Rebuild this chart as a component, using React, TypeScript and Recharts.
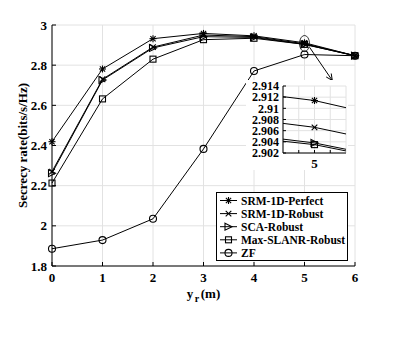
import { LineChart, Line, XAxis, YAxis, CartesianGrid, ReferenceDot, ReferenceLine, Legend } from "recharts";

const positions = [0, 1, 2, 3, 4, 5, 6];
const srmPerfect = [2.419, 2.781, 2.932, 2.958, 2.946, 2.9114, 2.847];
const srmRobust = [2.27, 2.73, 2.89, 2.95, 2.942, 2.9066, 2.847];
const scaRobust = [2.262, 2.726, 2.886, 2.942, 2.938, 2.9038, 2.847];
const slanrRobust = [2.213, 2.632, 2.83, 2.927, 2.934, 2.9035, 2.847];
const zfRate = [1.886, 1.929, 2.035, 2.383, 2.771, 2.853, 2.847];

const mainTicks = [1.8, 2, 2.2, 2.4, 2.6, 2.8, 3];
const insetYTicks = [2.902, 2.904, 2.906, 2.908, 2.91, 2.912, 2.914];
const insetXTicks = [4.99, 5, 5.01];

const rows = positions.map((x, i) => ({
  x,
  perfect: srmPerfect[i],
  robust: srmRobust[i],
  sca: scaRobust[i],
  slanr: slanrRobust[i],
  zf: zfRate[i],
}));

const series = [
  { key: "perfect", name: "SRM-1D-Perfect", marker: "star" },
  { key: "robust", name: "SRM-1D-Robust", marker: "cross" },
  { key: "sca", name: "SCA-Robust", marker: "tri" },
  { key: "slanr", name: "Max-SLANR-Robust", marker: "square" },
  { key: "zf", name: "ZF", marker: "circle" },
];

const font = "'Liberation Serif', 'Times New Roman', serif";
const tickStyle = { fill: "#000", fontSize: 13, fontWeight: "bold", fontFamily: font };
const insetTickStyle = { fill: "#000", fontSize: 12, fontWeight: "bold", fontFamily: font };

function Marker({ kind, cx, cy }: { kind: string; cx?: number; cy?: number }) {
  if (cx == null || cy == null || isNaN(cx) || isNaN(cy)) return null;
  const r = 3.5;
  const s = { stroke: "#000", strokeWidth: 1.1, fill: "none" };
  if (kind === "star") {
    const d = r * 0.75;
    return (
      <g {...s}>
        <line x1={cx - r} y1={cy} x2={cx + r} y2={cy} />
        <line x1={cx} y1={cy - r} x2={cx} y2={cy + r} />
        <line x1={cx - d} y1={cy - d} x2={cx + d} y2={cy + d} />
        <line x1={cx - d} y1={cy + d} x2={cx + d} y2={cy - d} />
      </g>
    );
  }
  if (kind === "cross") {
    const d = r * 0.8;
    return (
      <g {...s}>
        <line x1={cx - d} y1={cy - d} x2={cx + d} y2={cy + d} />
        <line x1={cx - d} y1={cy + d} x2={cx + d} y2={cy - d} />
      </g>
    );
  }
  if (kind === "tri") {
    return <polygon {...s} points={`${cx - r},${cy - r} ${cx + r},${cy} ${cx - r},${cy + r}`} />;
  }
  if (kind === "square") {
    return <rect {...s} x={cx - 3} y={cy - 3} width={6} height={6} />;
  }
  return <circle {...s} cx={cx} cy={cy} r={r} />;
}

function Arrow(p: any) {
  const { x1, y1, x2, y2 } = p;
  const a = Math.atan2(y2 - y1, x2 - x1);
  const h = 7;
  const l = [x2 - h * Math.cos(a - 0.45), y2 - h * Math.sin(a - 0.45)];
  const r = [x2 - h * Math.cos(a + 0.45), y2 - h * Math.sin(a + 0.45)];
  return (
    <g stroke="#000" strokeWidth={1} fill="none">
      <line x1={x1} y1={y1} x2={x2} y2={y2} />
      <polyline points={`${l[0]},${l[1]} ${x2},${y2} ${r[0]},${r[1]}`} />
    </g>
  );
}

function LegendBox() {
  return (
    <svg width={132} height={69} style={{ display: "block" }}>
      <rect x={0.5} y={0.5} width={131} height={68} fill="#fff" stroke="#000" strokeWidth={1} />
      {series.map((s, i) => {
        const y = 8.5 + i * 13.1;
        return (
          <g key={s.key}>
            <line x1={4} y1={y} x2={21} y2={y} stroke="#000" strokeWidth={1} />
            <Marker kind={s.marker} cx={12.5} cy={y} />
            <text x={25} y={y + 4} fontFamily={font} fontWeight="bold" fontSize={11.5} fill="#000">
              {s.name}
            </text>
          </g>
        );
      })}
    </svg>
  );
}

function MainYLabel(props: any) {
  const vb = props.viewBox || {};
  const cy = vb.y + vb.height / 2;
  return (
    <text
      x={27}
      y={cy}
      transform={`rotate(-90, 27, ${cy})`}
      textAnchor="middle"
      fontFamily={font}
      fontWeight="bold"
      fontSize={13}
      fill="#000"
    >
      Secrecy rate(bits/s/Hz)
    </text>
  );
}

function MainXLabel(props: any) {
  const vb = props.viewBox || {};
  const cx = vb.x + vb.width / 2;
  return (
    <text x={cx} y={298} textAnchor="middle" fontFamily={font} fontWeight="bold" fontSize={13} fill="#000">
      y
      <tspan fontSize={10} dx={1.5} dy={4}>r</tspan>
      <tspan dx={1.5} dy={-4}>(m)</tspan>
    </text>
  );
}

function renderLines(inset: boolean) {
  return series.map((s) => (
    <Line
      key={s.key}
      type="linear"
      dataKey={s.key}
      name={s.name}
      stroke="#000"
      strokeWidth={1}
      isAnimationActive={false}
      dot={(p: any) => <Marker key={`${s.key}-${p.index}`} kind={s.marker} cx={p.cx} cy={p.cy} />}
      activeDot={false}
      legendType="none"
      hide={inset && s.key === "zf"}
    />
  ));
}

export default function App() {
  return (
    <div style={{ position: "absolute", left: 0, top: 0, width: 399, height: 339, background: "#fff" }}>
      <LineChart width={399} height={339} data={rows} margin={{ top: 25, right: 44, bottom: 0, left: 0 }}>
        <CartesianGrid stroke="#e2e2e2" strokeWidth={1} />
        <XAxis
          dataKey="x"
          type="number"
          domain={[0, 6]}
          ticks={positions}
          height={73}
          tickSize={-4}
          tickMargin={11}
          stroke="#000"
          tick={tickStyle}
          label={<MainXLabel />}
        />
        <XAxis xAxisId="top" orientation="top" dataKey="x" type="number" domain={[0, 6]} ticks={positions} height={0} tickSize={-4} stroke="#000" tick={() => null} />
        <YAxis
          domain={[1.8, 3]}
          ticks={mainTicks}
          width={52}
          tickSize={-4}
          tickMargin={9}
          stroke="#000"
          tick={tickStyle}
          label={<MainYLabel />}
        />
        <YAxis yAxisId="right" orientation="right" domain={[1.8, 3]} ticks={mainTicks} width={0} tickSize={-4} stroke="#000" tick={() => null} />
        <ReferenceLine
          segment={[
            { x: 5.1, y: 2.889 },
            { x: 5.55, y: 2.724 },
          ]}
          shape={Arrow}
        />
        <ReferenceDot
          x={5}
          y={2.908}
          r={8}
          shape={(p: any) => <ellipse cx={p.cx} cy={p.cy} rx={5} ry={8} fill="none" stroke="#000" strokeWidth={0.8} />}
        />
        {renderLines(false)}
        <Legend
          layout="horizontal"
          verticalAlign="middle"
          align="center"
          content={() => <LegendBox />}
          wrapperStyle={{ position: "absolute", left: 216, top: 192, width: 132, height: 69 }}
        />
      </LineChart>

      <div style={{ position: "absolute", left: 246, top: 80, width: 102, height: 90, background: "#fff" }}>
        <LineChart width={102} height={90} data={rows} margin={{ top: 6, right: 2, bottom: 0, left: 0 }}>
          <CartesianGrid stroke="#e2e2e2" strokeWidth={1} />
          <XAxis
            dataKey="x"
            type="number"
            domain={[4.98, 5.02]}
            allowDataOverflow
            ticks={insetXTicks}
            height={17}
            tickSize={-3}
            tickMargin={9}
            stroke="#000"
            tick={tickStyle}
            tickFormatter={(v: number) => (v === 5 ? "5" : "")}
          />
          <XAxis xAxisId="top" orientation="top" dataKey="x" type="number" domain={[4.98, 5.02]} allowDataOverflow height={0} tick={() => null} tickLine={false} stroke="#000" />
          <YAxis
            domain={[2.902, 2.914]}
            allowDataOverflow
            ticks={insetYTicks}
            width={37}
            tickSize={-3}
            tickMargin={7}
            stroke="#000"
            tick={insetTickStyle}
            interval={0}
          />
          <YAxis yAxisId="right" orientation="right" domain={[2.902, 2.914]} allowDataOverflow width={0} tick={() => null} tickLine={false} stroke="#000" />
          {renderLines(true)}
        </LineChart>
      </div>
    </div>
  );
}
